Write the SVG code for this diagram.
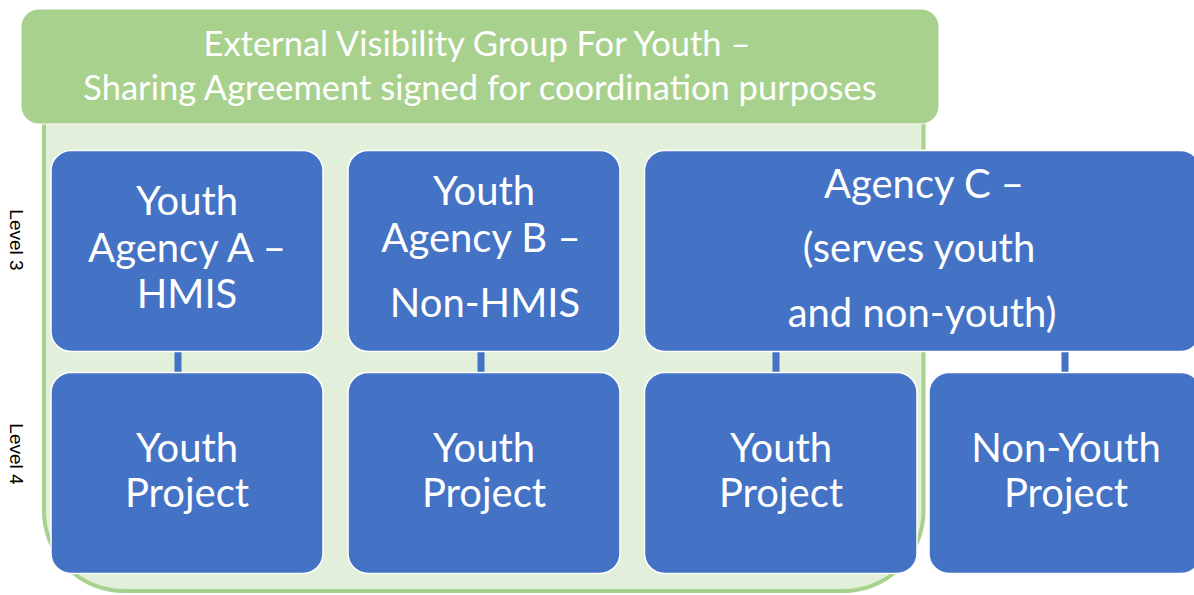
<svg xmlns="http://www.w3.org/2000/svg" width="1194" height="595" viewBox="0 0 1194 595">
  <style>
    .box { fill: #4472C4; stroke: #FFFFFF; stroke-width: 1.5; }
    .btxt { fill: #FFFFFF; font-family: Lato, "Open Sans", sans-serif; font-size: 40px; text-anchor: middle; }
    .htxt { fill: #FFFFFF; font-family: Lato, "Open Sans", sans-serif; font-size: 34.5px; text-anchor: middle; }
    .lvl { fill: #000000; font-family: "Liberation Sans", Arial, sans-serif; font-size: 19px; text-anchor: middle; }
    .conn { fill: #4472C4; }
  </style>
  <rect width="1194" height="595" fill="#FFFFFF"/>

  <g id="group-container">
    <rect x="44" y="40" width="879.5" height="551" rx="80" ry="80" fill="#E2EFDA" stroke="#A9D18E" stroke-width="4"/>
  </g>

  <g id="group-header">
    <rect x="21" y="9" width="918" height="115" rx="18" ry="18" fill="#A9D18E" stroke="#FFFFFF" stroke-width="1"/>
    <text class="htxt" x="477" y="56">External Visibility Group For Youth –</text>
    <text class="htxt" x="480" y="100">Sharing Agreement signed for coordination purposes</text>
  </g>

  <g id="level-labels">
    <text class="lvl" transform="translate(10,240) rotate(90)">Level 3</text>
    <text class="lvl" transform="translate(10,454) rotate(90)">Level 4</text>
  </g>

  <g id="connectors">
    <rect class="conn" x="174.5" y="351" width="7" height="23"/>
    <rect class="conn" x="477.5" y="351" width="7" height="23"/>
    <rect class="conn" x="772.5" y="351" width="7" height="23"/>
    <rect class="conn" x="1061.5" y="351" width="7" height="23"/>
  </g>

  <g id="agency-a">
    <rect class="box" x="51" y="150.5" width="272" height="201" rx="20" ry="20"/>
    <text class="btxt" x="187" y="215">Youth</text>
    <text class="btxt" x="187" y="262">Agency A –</text>
    <text class="btxt" x="187" y="308">HMIS</text>
  </g>

  <g id="agency-b">
    <rect class="box" x="348" y="150.5" width="272" height="201" rx="20" ry="20"/>
    <text class="btxt" x="484" y="205">Youth</text>
    <text class="btxt" x="481" y="252">Agency B –</text>
    <text class="btxt" x="485" y="317">Non-HMIS</text>
  </g>

  <g id="agency-c">
    <rect class="box" x="644.5" y="150.5" width="556" height="201" rx="20" ry="20"/>
    <text class="btxt" x="924" y="198">Agency C –</text>
    <text class="btxt" x="919" y="262">(serves youth</text>
    <text class="btxt" x="922" y="327">and non-youth)</text>
  </g>

  <g id="project-a">
    <rect class="box" x="51" y="372.5" width="272" height="201" rx="20" ry="20"/>
    <text class="btxt" x="187" y="462">Youth</text>
    <text class="btxt" x="187" y="507">Project</text>
  </g>

  <g id="project-b">
    <rect class="box" x="348" y="372.5" width="272" height="201" rx="20" ry="20"/>
    <text class="btxt" x="484" y="462">Youth</text>
    <text class="btxt" x="484" y="507">Project</text>
  </g>

  <g id="project-c-youth">
    <rect class="box" x="644.5" y="372.5" width="272.5" height="201" rx="20" ry="20"/>
    <text class="btxt" x="781" y="462">Youth</text>
    <text class="btxt" x="781" y="507">Project</text>
  </g>

  <g id="project-c-nonyouth">
    <rect class="box" x="929" y="372.5" width="272" height="201" rx="20" ry="20"/>
    <text class="btxt" x="1066" y="462">Non-Youth</text>
    <text class="btxt" x="1066" y="507">Project</text>
  </g>
</svg>
